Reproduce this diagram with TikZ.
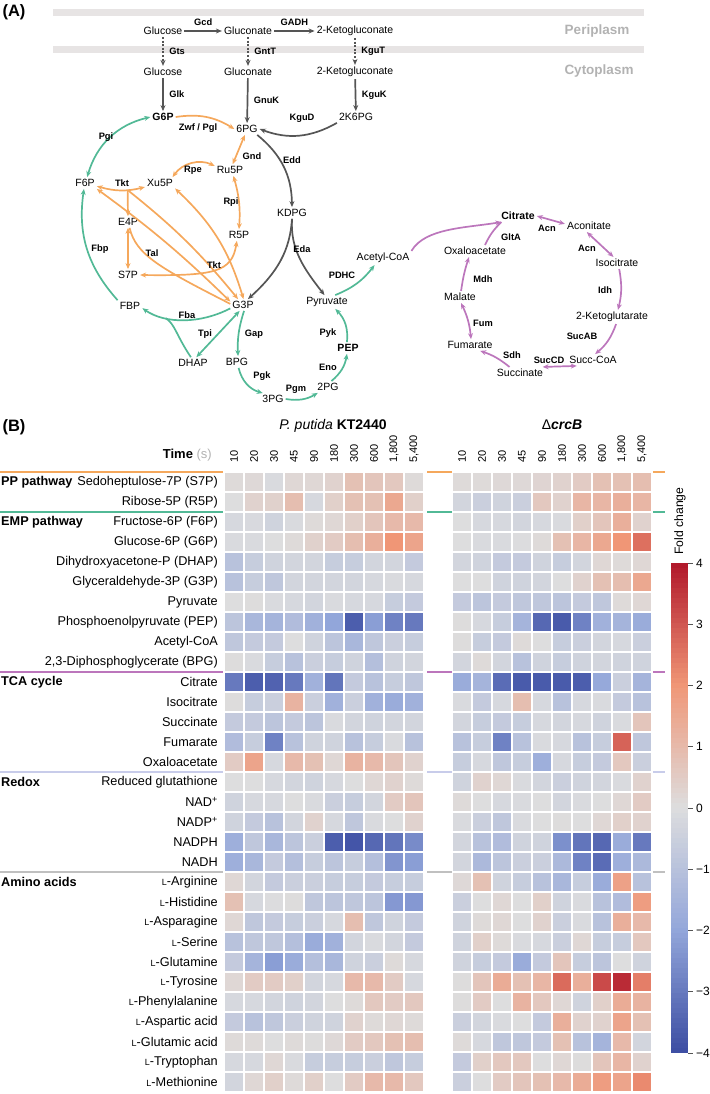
\documentclass[tikz,border=0pt]{standalone}
\usepackage{fontspec}
\setmainfont{Liberation Sans}
\usetikzlibrary{arrows.meta,calc}

\definecolor{pathOrange}{RGB}{245,168,92}
\definecolor{pathGreen}{RGB}{82,185,150}
\definecolor{pathPurple}{RGB}{188,118,188}
\definecolor{pathDark}{RGB}{85,85,85}
\definecolor{membraneGray}{RGB}{231,228,228}
\definecolor{compartGray}{RGB}{178,178,178}
\definecolor{redoxLine}{RGB}{200,204,234}
\definecolor{aminoLine}{RGB}{192,192,192}
\definecolor{hmZero}{RGB}{221,221,222}
\definecolor{hmNegMid}{RGB}{146,166,218}
\definecolor{hmNegMax}{RGB}{59,76,162}
\definecolor{hmPosMid}{RGB}{240,150,118}
\definecolor{hmPosMax}{RGB}{176,22,42}

% fold change -> colour (three stops on each side)
\newcommand\setfoldcolor[1]{%
  \pgfmathsetmacro\foldabs{abs(#1)}%
  \pgfmathtruncatemacro\foldlo{min(\foldabs,2)*50}%
  \pgfmathtruncatemacro\foldhi{max(\foldabs-2,0)*50}%
  \ifdim #1pt<0pt
    \colorlet{foldtmp}{hmNegMid!\foldlo!hmZero}%
    \colorlet{foldc}{hmNegMax!\foldhi!foldtmp}%
  \else
    \colorlet{foldtmp}{hmPosMid!\foldlo!hmZero}%
    \colorlet{foldc}{hmPosMax!\foldhi!foldtmp}%
  \fi}
\newcommand\smallL{{\fontsize{9}{9}\selectfont L}}

\begin{document}
\begin{tikzpicture}[x=1pt, y=-1pt,
  met/.style={font=\fontsize{10.5}{12}\selectfont, inner sep=2pt},
  metb/.style={met, font=\bfseries\fontsize{10.5}{12}\selectfont},
  enz/.style={font=\bfseries\fontsize{9.3}{11}\selectfont, inner sep=0.5pt},
  compart/.style={font=\bfseries\fontsize{13.5}{15}\selectfont, text=compartGray},
  panel/.style={font=\bfseries\fontsize{16.5}{18}\selectfont, inner sep=0pt},
  dkarr/.style={->, >={Stealth[length=6pt,width=5pt]}, line width=1.7pt, draw=pathDark},
  dkdot/.style={dkarr, dash pattern=on 2pt off 1.6pt},
  orarr/.style={>={Stealth[length=6pt,width=5pt]}, line width=1.7pt, draw=pathOrange},
  grarr/.style={orarr, draw=pathGreen},
  puarr/.style={orarr, draw=pathPurple},
  rowlab/.style={anchor=east, inner sep=0pt, font=\fontsize{12.7}{14}\selectfont},
  grouplab/.style={anchor=west, inner sep=0pt, font=\bfseries\fontsize{12.7}{14}\selectfont},
  collab/.style={rotate=90, anchor=west, inner sep=0pt, font=\fontsize{11}{12}\selectfont},
  title/.style={inner sep=0pt, font=\fontsize{14}{16}\selectfont},
  sepline/.style={line width=2pt}]

\useasboundingbox (0,0) rectangle (709,1094);

%% ---------------- (A) pathway map ----------------
\node[panel] (panA) at (14,12) {(A)};
\fill[membraneGray] (53,9.5) rectangle (644,16);
\fill[membraneGray] (53,46) rectangle (644,53);
\node[compart] (peri) at (597,31) {Periplasm};
\node[compart] (cyto) at (599,71) {Cytoplasm};

\node[met]  (glcP) at (163,31)  {Glucose};
\node[met]  (gnP)  at (248,31)  {Gluconate};
\node[met]  (kgP)  at (355,31)  {2-Ketogluconate};
\node[met]  (glcC) at (163,72)  {Glucose};
\node[met]  (gnC)  at (248,72)  {Gluconate};
\node[met]  (kgC)  at (355,72)  {2-Ketogluconate};
\node[metb] (g6p)  at (163,117) {G6P};
\node[met]  (pg6)  at (247,129) {6PG};
\node[met]  (kpg6) at (356,117) {2K6PG};
\node[met]  (f6p)  at (85,183)  {F6P};
\node[met]  (xu5p) at (160,183) {Xu5P};
\node[met]  (ru5p) at (230,170) {Ru5P};
\node[met]  (e4p)  at (128,222) {E4P};
\node[met]  (r5p)  at (239,235) {R5P};
\node[met]  (s7p)  at (128,275) {S7P};
\node[met]  (kdpg) at (292,213) {KDPG};
\node[met]  (g3p)  at (243,305) {G3P};
\node[met]  (fbp)  at (130,306) {FBP};
\node[met]  (pyr)  at (327,302) {Pyruvate};
\node[met]  (dhap) at (193,363) {DHAP};
\node[met]  (bpg)  at (237,362) {BPG};
\node[metb] (pep)  at (348,348) {PEP};
\node[met]  (pg3)  at (273,399) {3PG};
\node[met]  (pg2)  at (328,387) {2PG};
\node[met]  (accoa) at (383,258) {Acetyl-CoA};
% TCA cycle
\node[metb] (cit)    at (518,216) {Citrate};
\node[met]  (acon)   at (589,226) {Aconitate};
\node[met]  (icit)   at (617,263) {Isocitrate};
\node[met]  (akg)    at (612,317) {2-Ketoglutarate};
\node[met]  (succoa) at (593,360) {Succ-CoA};
\node[met]  (succ)   at (520,373) {Succinate};
\node[met]  (fum)    at (470,345) {Fumarate};
\node[met]  (mal)    at (460,297) {Malate};
\node[met]  (oaa)    at (475,251) {Oxaloacetate};

% uptake and periplasmic oxidation
\draw[dkarr] (glcP) -- node[enz, above=4pt]{Gcd} (gnP);
\draw[dkarr] (gnP)  -- node[enz, above=4pt]{GADH} (kgP);
\draw[dkdot] (glcP) -- node[enz, right=5pt]{Gts} (glcC);
\draw[dkdot] (gnP)  -- node[enz, right=5pt]{GntT} (gnC);
\draw[dkdot] (kgP)  -- node[enz, right=5pt]{KguT} (kgC);
\draw[dkarr] (glcC) -- node[enz, right=5pt]{Glk} (g6p);
\draw[dkarr] (gnC)  -- node[enz, right=5pt]{GnuK} (pg6);
\draw[dkarr] (kgC)  -- node[enz, right=5pt]{KguK} (kpg6);
\draw[dkarr] (kpg6.south west) to[bend left=25] (pg6.east);
\node[enz] (kguD) at (302,118) {KguD};

% ED pathway
\draw[dkarr] (pg6.-30) to[bend left=25] (kdpg.north);
\node[enz] (edd) at (292,160) {Edd};
\draw[dkarr] (kdpg.south) .. controls (290,250) and (278,272) .. (g3p.50);
\draw[dkarr] (kdpg.south) .. controls (290,250) and (305,270) .. (pyr.110);
\node[enz] (eda) at (302,249) {Eda};

% PP pathway
\draw[orarr,->]  (g6p.east) to[bend left=20] (pg6.west);
\node[enz] (zwf) at (198,128) {Zwf / Pgl};
\draw[orarr,<->] (pg6.250) -- (ru5p.65);
\node[enz] (gnd) at (252,156) {Gnd};
\draw[orarr,<->] (ru5p.165) to[bend right=40] (xu5p.25);
\node[enz] (rpe) at (193,170) {Rpe};
\draw[orarr,<->] (ru5p.-60) to[bend left=10] (r5p.north);
\node[enz] (rpi) at (231,202) {Rpi};
\draw[orarr,<->] (f6p.-15) to[bend right=15] coordinate[pos=0.65] (tktJ) (xu5p.195);
\node[enz] (tkt1) at (122,183) {Tkt};
\draw[orarr,->]  (tktJ) -- (e4p.north);
\draw[orarr,->]  (tktJ) to[bend left=6] (g3p.130);
\draw[orarr,<->] (f6p.south east) to[bend left=4] (g3p.165);
\draw[orarr,<->] (e4p.south) -- (s7p.north);
\draw[orarr]     (e4p.-75) .. controls (136,255) and (160,268) .. (g3p.175);
\node[enz] (tal) at (152,253) {Tal};
\draw[orarr,<->] (xu5p.-20) to[bend left=15] (g3p.85);
\draw[orarr,<->] (r5p.-110) .. controls (232,272) and (215,276) .. (s7p.east);
\node[enz] (tkt2) at (214,265) {Tkt};

% EMP pathway
\draw[grarr,<->] (g6p.west) to[bend right=30] (f6p.70);
\node[enz] (pgi) at (106,137) {Pgi};
\draw[grarr,->]  (fbp.north west) to[bend left=25] (f6p.-100);
\node[enz] (fbpE) at (100,249) {Fbp};
\draw[grarr,->]  (g3p.195) .. controls (200,324) and (165,324) .. coordinate[pos=0.7] (fbaJ) (fbp.-10);
\draw[grarr]     (dhap.110) .. controls (176,335) and (175,324) .. (fbaJ);
\node[enz] (fba) at (187,315) {Fba};
\draw[grarr,<->] (g3p.-120) -- (dhap.60);
\node[enz] (tpi) at (205,334) {Tpi};
\draw[grarr,->]  (g3p.-80) to[bend right=10] (bpg.80);
\node[enz] (gap) at (254,334) {Gap};
\draw[grarr,->]  (bpg.-75) to[bend right=30] (pg3.150);
\node[enz] (pgk) at (262,376) {Pgk};
\draw[grarr,->]  (pg3.east) to[bend right=20] (pg2.210);
\node[enz] (pgm) at (296,389) {Pgm};
\draw[grarr,->]  (pg2.60) to[bend right=20] (pep.-100);
\node[enz] (eno) at (328,367) {Eno};
\draw[grarr,->]  (pep.100) to[bend right=25] (pyr.-40);
\node[enz] (pyk) at (328,333) {Pyk};
\draw[grarr,->]  (pyr.40) to[bend right=15] (accoa.-140);
\node[enz] (pdhc) at (342,275) {PDHC};

% TCA cycle
\draw[puarr,->]  (accoa.north east) .. controls (425,228) and (465,228) .. (cit.200);
\draw[puarr]     ($(oaa.north)+(10,0)$) to[bend left=10] (cit.200);
\node[enz] (glta) at (511,237) {GltA};
\draw[puarr,<->] (cit.east) -- (acon.175);
\node[enz] (acn1) at (547,228) {Acn};
\draw[puarr,<->] (acon.-110) -- (icit.120);
\node[enz] (acn2) at (587,248) {Acn};
\draw[puarr,->]  (icit.-70) to[bend left=12] ($(akg.north)+(6,0)$);
\node[enz] (idh) at (605,290) {Idh};
\draw[puarr,->]  (akg.-60) to[bend left=15] (succoa.70);
\node[enz] (sucab) at (582,336) {SucAB};
\draw[puarr,<->] (succoa.-160) -- (succ.15);
\node[enz] (succd) at (549,360) {SucCD};
\draw[puarr,->]  (succ.150) to[bend right=10] (fum.-30);
\node[enz] (sdh) at (512,355) {Sdh};
\draw[puarr,<->] (fum.80) to[bend right=10] (mal.-80);
\node[enz] (fumE) at (483,323) {Fum};
\draw[puarr,->]  (mal.80) to[bend left=5] ($(oaa.south)+(-6,0)$);
\node[enz] (mdh) at (483,279) {Mdh};

%% ---------------- (B) heat map ----------------
\node[panel] (panB) at (14,427) {(B)};
\node[title] (strainA) at (333,426) {\textit{P. putida} \textbf{KT2440}};
\node[title] (strainB) at (562,425) {Δ\textbf{\textit{crcB}}};
\node[anchor=east, inner sep=0pt, font=\fontsize{13}{15}\selectfont] (timeLab) at (212,455)
  {\textbf{Time} \textcolor{compartGray}{(s)}};
\foreach \t [count=\colidx from 0] in {10,20,30,45,90,180,300,600,{1,800},{5,400}}{
  \node[collab] (tA\colidx) at (234+20*\colidx,463) {\t};
  \node[collab] (tB\colidx) at (462+20*\colidx,463) {\t};
}

% group separators
\foreach \yy/\cc in {471.5/pathOrange, 511.5/pathGreen, 671.5/pathPurple, 771.5/redoxLine, 871.5/aminoLine}{
  \draw[sepline, draw=\cc] (0,\yy) -- (223,\yy) (427,\yy) -- (452,\yy) (653,\yy) -- (665,\yy);
}
\node[grouplab] (gPP)  at (1,482) {PP pathway};
\node[grouplab] (gEMP) at (1,522) {EMP pathway};
\node[grouplab] (gTCA) at (1,682) {TCA cycle};
\node[grouplab] (gRed) at (1,782) {Redox};
\node[grouplab] (gAA)  at (1,882) {Amino acids};

\foreach \lab [count=\rowidx from 0] in {Sedoheptulose-7P (S7P), Ribose-5P (R5P),
  Fructose-6P (F6P), Glucose-6P (G6P), Dihydroxyacetone-P (DHAP), Glyceraldehyde-3P (G3P),
  Pyruvate, Phosphoenolpyruvate (PEP), Acetyl-CoA, {2,3-Diphosphoglycerate (BPG)},
  Citrate, Isocitrate, Succinate, Fumarate, Oxaloacetate,
  Reduced glutathione, NAD\textsuperscript{+}, NADP\textsuperscript{+}, NADPH, NADH,
  \smallL-Arginine, \smallL-Histidine, \smallL-Asparagine, \smallL-Serine, \smallL-Glutamine,
  \smallL-Tyrosine, \smallL-Phenylalanine, \smallL-Aspartic acid, \smallL-Glutamic acid,
  \smallL-Tryptophan, \smallL-Methionine}{
  \node[rowlab] (met\rowidx) at (218,482+20*\rowidx) {\lab};
}

% cells: 10 time points KT2440, then 10 time points crcB
\foreach \vals [count=\rowidx from 0] in {
  {0.1,0.15,-0.1,0.2,0.2,0.3,0.8,0.7,0.6,0.1, 0.1,0.1,0.15,0.15,0.25,0.3,0.5,0.8,0.8,0.9},
  {0,0.3,0.35,0.9,-0.2,0.4,0.8,0.8,1.5,0.4, -0.3,-0.5,-0.4,-0.5,0.6,0.3,1.1,1.1,1.3,1.1},
  {-0.2,-0.15,-0.4,-0.1,0.1,0.2,0.4,0.7,1.0,1.0, 0,-0.2,-0.2,-0.3,-0.2,-0.1,0.4,0.7,1.3,0.3},
  {-0.1,-0.1,0,0.1,0.35,0.5,0.9,1.3,2.0,1.6, 0,-0.1,-0.1,-0.05,0.1,0.8,1.1,1.5,2.0,2.6},
  {-1.0,-0.6,-0.4,-0.3,-0.3,-0.6,-0.6,-0.3,-0.3,-0.7, -0.3,-0.4,-0.7,-0.7,-0.4,-0.6,-0.3,0.2,0.1,0.2},
  {-1.0,-0.6,-0.8,-0.3,-0.3,-0.3,-0.3,-0.2,-0.1,-0.2, 0,0,-0.4,-0.4,-0.3,0,0.3,0.8,0.9,1.5},
  {0,0.05,-0.1,-0.2,-0.3,-0.1,-0.2,-0.2,-0.6,-0.7, -0.7,-0.9,-0.7,-0.8,-0.8,-0.9,-0.7,-0.8,0.1,0.2},
  {-0.9,-1.4,-1.5,-1.2,-1.6,-2.0,-3.6,-2.2,-2.8,-3.0, 0.05,-0.2,-0.6,-1.5,-3.4,-3.7,-2.8,-1.6,-1.5,-1.8},
  {-0.8,-0.7,-0.7,0,-0.4,-0.9,-1.4,-0.8,-0.5,-0.6, 0.05,-0.6,-0.7,0.1,0,-0.6,-0.5,-0.3,-0.2,-0.5},
  {0.05,-0.1,-0.6,-1.0,-0.5,-0.6,-0.4,-1.1,-0.4,-0.3, -0.3,0.1,-0.3,-1.0,-0.4,-0.6,-0.4,-0.3,-0.4,-0.4},
  {-3.0,-3.6,-3.5,-3.0,-1.6,-3.1,-0.7,-1.0,-0.6,-0.8, -1.8,-1.5,-3.3,-3.7,-3.7,-3.7,-3.6,-1.9,-0.5,-1.5},
  {0.05,-0.6,-0.5,1.2,-0.5,-1.6,-0.5,-1.6,-1.8,-1.6, -0.1,-0.7,-0.2,0.9,-0.2,-1.0,-0.2,-0.1,-0.7,-1.0},
  {-0.7,-0.7,-0.9,-0.7,-0.9,-0.1,-0.3,-0.4,-0.3,-0.3, -0.3,-0.6,-0.7,-0.6,-0.2,-0.3,-0.2,-0.4,-0.1,0.7},
  {-1.2,-0.6,-2.8,-1.0,-0.4,-0.4,-1.0,-0.6,-0.1,-1.0, -1.0,-0.6,-2.8,-1.0,-0.1,-0.2,-1.0,-0.6,2.8,-0.8},
  {0.5,1.6,-0.2,1.0,0.8,0.2,1.2,1.0,0.7,0.3, -0.6,-0.2,-0.8,-0.6,-1.7,-0.2,-0.6,-0.7,0.6,-0.5},
  {0,0,-0.2,-0.3,-0.4,-0.2,0,0.2,0.3,0.1, -0.4,0.3,0.2,-0.1,-0.3,-0.5,-0.4,-0.3,-0.1,0.3},
  {-0.4,-0.2,-0.2,0,-0.1,-0.5,-0.6,-0.3,0.5,0.7, 0.1,0,-0.2,-0.1,0,-0.3,-0.1,0,0.2,0.5},
  {-0.4,-0.7,-1.0,-0.3,0.3,-0.2,-0.8,-0.1,0,0.3, -0.1,-0.5,-0.8,-0.1,0,0.05,0,0.2,0.4,0.3},
  {-1.7,-0.8,-1.4,-0.9,-0.5,-3.6,-3.8,-3.4,-3.1,-2.6, -0.3,-1.0,-1.2,-0.4,-0.4,-2.5,-3.1,-3.4,-1.8,-3.0},
  {-1.7,-1.4,-0.7,-1.1,-0.6,-0.9,-0.6,-1.1,-2.4,-2.2, -0.3,-1.3,-0.9,-0.5,-0.5,-1.3,-2.8,-3.3,-1.7,-1.3},
  {0.2,-0.3,-0.7,-0.5,-0.5,-0.6,-0.6,-0.7,-0.6,-0.6, 0.15,0.8,-0.4,-0.6,-1.0,-1.4,-0.6,-1.8,1.7,-1.0},
  {0.8,-0.2,-0.05,0.05,-0.8,-0.9,-0.8,-0.9,-2.3,-2.3, -0.5,0,0.2,0,0.4,-0.4,-0.1,-1.0,-1.2,1.8},
  {0.2,-0.8,-0.7,-0.6,-0.5,-0.2,0.9,-0.8,-0.4,-0.7, -0.4,0.1,0.2,0,0.3,-0.5,-0.1,-1.0,1.3,1.0},
  {-1.0,-0.8,-0.8,-1.1,-1.8,-1.6,-0.3,-0.1,-0.3,-0.7, -0.4,0.4,0.1,-0.1,-0.2,-0.5,0.2,-0.6,-0.6,0.6},
  {-0.7,-1.5,-2.2,-1.8,-1.1,-1.4,-0.4,-0.5,0.1,-0.2, -0.4,-0.6,-0.7,-1.8,-0.7,0.7,-0.6,-0.9,0,-0.4},
  {0.2,0.5,0.5,0.4,-0.3,-0.2,1.0,1.0,0.5,-0.2, 0.05,0.7,1.4,0.8,1.1,2.7,1.3,3.2,3.7,2.4},
  {-0.2,-0.2,-0.3,-0.4,-0.3,0,0.1,0.6,0.5,0.6, 0.05,0.5,0,1.2,0.6,0.2,-0.4,0.4,1.4,1.2},
  {-0.7,-1.0,-0.8,-0.5,-0.4,-0.4,0.3,0.1,0.2,0.1, -0.5,-0.3,-0.1,0,-0.7,1.3,0.3,0.3,1.6,0.8},
  {0.1,0.1,0,0.1,0.05,0.15,0.5,0.6,0.8,0.9, 0.1,-0.2,-0.8,-0.8,-0.7,0.8,-1.0,-1.5,1.0,-0.3},
  {-0.2,-0.2,0.2,-0.1,-0.6,-0.6,-0.6,-0.5,-0.8,-0.6, -0.7,0.4,0.6,0.6,0,0.2,0.05,0.7,1.1,0.3},
  {-0.3,0.2,0.4,0.1,0.4,0,0.5,1.0,1.0,0.6, -0.5,0,0.5,0.7,0.8,1.0,1.4,1.8,1.6,2.2}}{
  \foreach \v [count=\colidx from 0] in \vals {
    \pgfmathsetmacro\cx{\colidx<10 ? 225+20*\colidx : 253+20*\colidx}
    \setfoldcolor{\v}
    \fill[foldc] (\cx,473+20*\rowidx) rectangle ++(18,18);
  }
}

% colour bar
\foreach \k in {0,...,97}{
  \pgfmathsetmacro\kv{4-(\k+0.5)*8/98}
  \setfoldcolor{\kv}
  \fill[foldc] (671,563+5*\k) rectangle ++(17,5.4);
}
\foreach \t/\lab in {4/4,3/3,2/2,1/1,0/0,-1/−1,-2/−2,-3/−3,-4/−4}{
  \draw[line width=1pt, pathDark] (688,808-61.25*\t) -- ++(5,0);
  \node[anchor=west, inner sep=0pt, font=\fontsize{12}{14}\selectfont] (tick\t) at (696,808-61.25*\t) {\lab};
}
\node[rotate=90, inner sep=0pt, font=\fontsize{12.2}{14}\selectfont] (foldLab) at (680,521) {Fold change};
\end{tikzpicture}
\end{document}
